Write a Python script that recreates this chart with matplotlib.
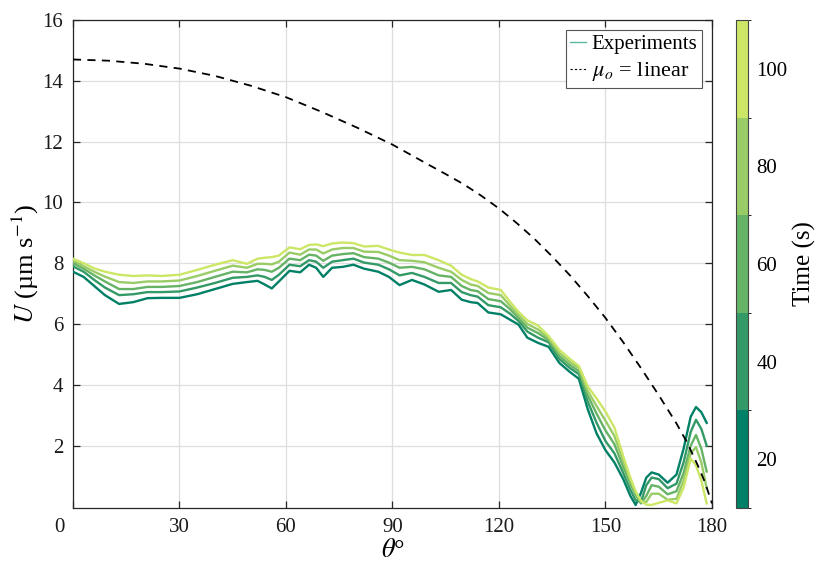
import numpy as np
import matplotlib
matplotlib.use("Agg")
import matplotlib.pyplot as plt
from matplotlib.colors import ListedColormap, BoundaryNorm
from matplotlib.cm import ScalarMappable

plt.rcParams['font.family'] = ['Liberation Serif', 'DejaVu Serif']
plt.rcParams['mathtext.fontset'] = 'stix'

# angle grid shared by the measured profiles (degrees)
theta = [0, 3, 6, 9, 13, 17, 21, 25, 30, 35, 40, 45, 49, 52, 54, 56, 58, 61, 64, 66.5,
         68.5, 70.5, 73, 76, 79, 82, 86, 89, 92, 95.5, 99, 103, 106.5, 109.5, 112, 114,
         117, 120.5, 123, 125.5, 128, 131, 134, 137, 140, 142.5, 145, 147.5, 150, 152.5,
         155, 157, 158.5, 160, 161.5, 163, 165, 167.5, 170, 172, 174, 175.5, 177, 178.5]

times = [20, 40, 60, 80, 100]

u_t20 = [7.72, 7.55, 7.25, 6.95, 6.66, 6.72, 6.85, 6.86, 6.86, 6.98, 7.15, 7.32, 7.38, 7.42,
         7.30, 7.17, 7.40, 7.75, 7.70, 7.95, 7.85, 7.55, 7.85, 7.88, 7.95, 7.82, 7.72, 7.55,
         7.28, 7.45, 7.30, 7.06, 7.12, 6.80, 6.72, 6.69, 6.38, 6.32, 6.15, 5.98, 5.55, 5.38,
         5.25, 4.72, 4.42, 4.20, 3.20, 2.40, 1.85, 1.45, 0.90, 0.35, 0.05, 0.45, 0.95, 1.12,
         1.05, 0.78, 1.05, 1.90, 2.95, 3.27, 3.10, 2.75]
u_t40 = [7.90, 7.72, 7.45, 7.20, 6.95, 6.98, 7.05, 7.05, 7.07, 7.20, 7.35, 7.52, 7.55, 7.60,
         7.55, 7.45, 7.62, 7.95, 7.90, 8.10, 8.05, 7.85, 8.05, 8.10, 8.15, 8.02, 7.95, 7.80,
         7.60, 7.68, 7.55, 7.35, 7.35, 7.05, 6.95, 6.90, 6.62, 6.55, 6.35, 6.10, 5.75, 5.55,
         5.40, 4.85, 4.55, 4.35, 3.45, 2.75, 2.15, 1.75, 1.10, 0.55, 0.20, 0.15, 0.70, 0.95,
         0.90, 0.60, 0.75, 1.45, 2.45, 2.85, 2.55, 2.00]
u_t60 = [8.00, 7.82, 7.60, 7.40, 7.15, 7.15, 7.22, 7.22, 7.25, 7.38, 7.55, 7.72, 7.70, 7.80,
         7.78, 7.72, 7.85, 8.15, 8.10, 8.28, 8.25, 8.08, 8.25, 8.30, 8.33, 8.20, 8.15, 8.02,
         7.85, 7.88, 7.80, 7.60, 7.55, 7.25, 7.12, 7.08, 6.82, 6.75, 6.50, 6.20, 5.88, 5.70,
         5.47, 4.95, 4.65, 4.45, 3.65, 3.05, 2.50, 2.05, 1.30, 0.75, 0.38, 0.10, 0.35, 0.70,
         0.65, 0.40, 0.50, 1.10, 2.00, 2.35, 1.90, 1.15]
u_t80 = [8.08, 7.90, 7.72, 7.56, 7.38, 7.35, 7.40, 7.40, 7.43, 7.58, 7.75, 7.92, 7.85, 7.98,
         7.98, 7.96, 8.05, 8.35, 8.28, 8.45, 8.45, 8.32, 8.45, 8.50, 8.50, 8.38, 8.37, 8.25,
         8.10, 8.08, 8.03, 7.85, 7.72, 7.45, 7.30, 7.25, 7.02, 6.95, 6.62, 6.30, 6.00, 5.82,
         5.53, 5.05, 4.75, 4.55, 3.80, 3.30, 2.82, 2.32, 1.50, 0.85, 0.45, 0.15, 0.15, 0.42,
         0.42, 0.22, 0.25, 0.85, 1.75, 1.95, 1.45, 0.60]
u_t100 = [8.15, 8.00, 7.83, 7.72, 7.62, 7.58, 7.60, 7.58, 7.62, 7.78, 7.95, 8.10, 7.98, 8.15,
          8.18, 8.20, 8.25, 8.52, 8.46, 8.60, 8.62, 8.56, 8.65, 8.68, 8.66, 8.55, 8.57, 8.45,
          8.35, 8.27, 8.27, 8.10, 7.92, 7.62, 7.48, 7.40, 7.20, 7.12, 6.75, 6.40, 6.12, 5.95,
          5.60, 5.15, 4.85, 4.62, 3.95, 3.55, 3.12, 2.60, 1.65, 0.95, 0.50, 0.18, 0.06, 0.05,
          0.12, 0.20, 0.10, 0.62, 1.57, 1.35, 0.85, 0.10]

# model curve, mu_o = linear
theta_lin = [0, 10, 20, 30, 40, 50, 60, 70, 80, 90, 100, 105, 110, 115, 120, 125, 130, 135,
             140, 145, 150, 155, 160, 165, 170, 173, 176, 178, 180]
u_lin = [14.70, 14.66, 14.56, 14.40, 14.16, 13.84, 13.46, 12.98, 12.46, 11.90, 11.25, 10.93,
         10.60, 10.22, 9.80, 9.32, 8.80, 8.22, 7.60, 6.92, 6.20, 5.40, 4.55, 3.66, 2.73, 2.10,
         1.35, 0.80, 0.10]

profiles = [u_t20, u_t40, u_t60, u_t80, u_t100]

summer = plt.get_cmap('summer')
cols = [summer(v) for v in [0.0, 0.2, 0.4, 0.6, 0.8]]
cmap = ListedColormap(cols)
norm = BoundaryNorm([10, 30, 50, 70, 90, 110], cmap.N)

fig = plt.figure(figsize=(8.18, 5.70), dpi=100)
ax = fig.add_axes([0.0892, 0.1088, 0.7812, 0.8562])

for t, u in zip(times, profiles):
    ax.plot(theta, u, color=cmap(norm(t)), lw=1.7, zorder=3)

ax.plot(theta_lin, u_lin, color='black', ls=(0, (4.5, 3.5)), lw=1.3, zorder=4)

# legend proxies
h1, = ax.plot([], [], color='#5fb8a2', lw=1.0, label='Experiments')
h2, = ax.plot([], [], color='black', ls=(0, (2, 2)), lw=0.8, label=r'$\mu_o$ = linear')
leg = ax.legend(handles=[h1, h2], loc='upper right', fontsize=15, frameon=True,
                fancybox=False, framealpha=1, edgecolor='#555555', handlelength=0.8,
                handletextpad=0.25, borderpad=0.2, labelspacing=0.3,
                borderaxespad=0.5)
leg.get_frame().set_linewidth(0.8)
leg.get_texts()[1].set_fontsize(16)

ax.set_xlim(0, 180)
ax.set_ylim(-0.05, 16)
ax.set_xticks([0, 30, 60, 90, 120, 150, 180])
ax.set_xticklabels(['', '30', '60', '90', '120', '150', '180'])
ax.set_yticks([2, 4, 6, 8, 10, 12, 14, 16])
ax.annotate('0', xy=(0, 0), xycoords='axes fraction', xytext=(-14, -10),
            textcoords='offset pixels', ha='center', va='top', fontsize=15, color='#1a1a1a')

ax.grid(True, color='#dedede', lw=0.9)
ax.set_axisbelow(True)
ax.tick_params(direction='in', top=True, right=True, length=5, width=0.9,
               labelsize=15, pad=7, colors='#262626', labelcolor='#1a1a1a')
for s in ax.spines.values():
    s.set_color('#262626')
    s.set_linewidth(0.9)

ax.set_xlabel(r'$\theta$°', fontsize=19, labelpad=2)
ax.set_ylabel(r'$U$ (µm s$^{-1}$)', fontsize=19, labelpad=1)

cax = fig.add_axes([0.8998, 0.1088, 0.0146, 0.8562])
sm = ScalarMappable(norm=norm, cmap=cmap)
cb = fig.colorbar(sm, cax=cax, ticks=[20, 40, 60, 80, 100])
cb.outline.set_edgecolor('#444444')
cb.outline.set_linewidth(0.8)
cax.tick_params(length=0, labelsize=15, pad=6)
cb.set_label('Time (s)', fontsize=18, labelpad=4)

fig.savefig('out.png', dpi=100)
